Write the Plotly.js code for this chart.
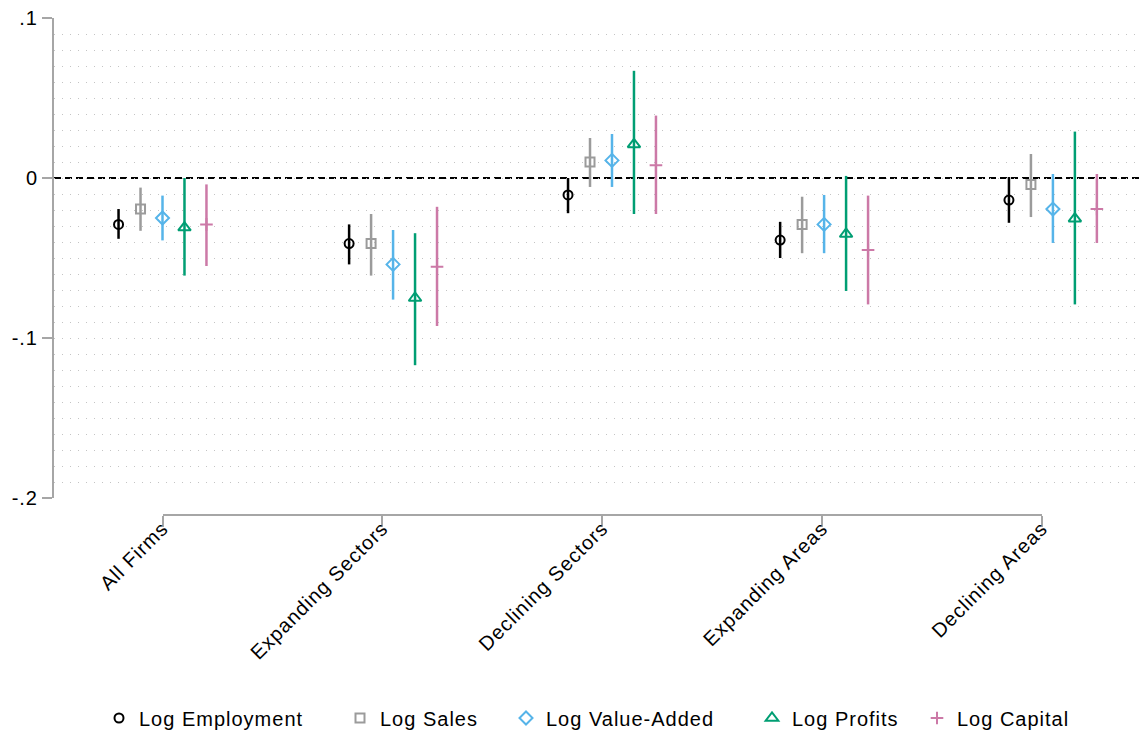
<!DOCTYPE html>
<html>
<head>
<meta charset="utf-8">
<script src="https://cdn.plot.ly/plotly-3.0.1.min.js"></script>
<style>
html,body{margin:0;padding:0;background:#fff;}
svg text{letter-spacing:1px;}
</style>
</head>
<body>
<div id="chart" style="width:1139px;height:733px;"></div>
<script>
// ---- data ----
const categories = ['All Firms', 'Expanding Sectors', 'Declining Sectors', 'Expanding Areas', 'Declining Areas'];
const groupCenters = [0, 1.049, 2.045, 3.01, 4.051];   // where each group of estimates sits on the category axis
const seriesNames = ['Log Employment', 'Log Sales', 'Log Value-Added', 'Log Profits', 'Log Capital'];

const empEst = [-0.029, -0.041, -0.0106, -0.0388, -0.0138];
const empLo  = [-0.038, -0.054, -0.022, -0.050, -0.028];
const empHi  = [-0.0194, -0.029, 0.000, -0.0274, 0.0006];

const salesEst = [-0.0194, -0.041, 0.010, -0.029, -0.004];
const salesLo  = [-0.033, -0.061, -0.0056, -0.047, -0.0244];
const salesHi  = [-0.006, -0.0225, 0.025, -0.0117, 0.015];

const vaEst = [-0.025, -0.054, 0.011, -0.029, -0.0194];
const vaLo  = [-0.039, -0.076, -0.0056, -0.047, -0.0406];
const vaHi  = [-0.011, -0.0325, 0.0275, -0.0106, 0.0025];

const profitsEst = [-0.031, -0.075, 0.021, -0.035, -0.0254];
const profitsLo  = [-0.061, -0.117, -0.0225, -0.0706, -0.079];
const profitsHi  = [0.0, -0.0345, 0.067, 0.0013, 0.029];

const capitalEst = [-0.029, -0.0554, 0.008, -0.045, -0.0194];
const capitalLo  = [-0.055, -0.0925, -0.0225, -0.079, -0.0406];
const capitalHi  = [-0.004, -0.018, 0.039, -0.011, 0.0025];

const yTickVals = [-0.2, -0.1, 0, 0.1];
const yTickText = ['-.2', '-.1', '0', '.1'];

// ---- styling ----
const FONT = 'Liberation Sans, Arial, Helvetica, sans-serif';
const AXIS_GRAY = '#a6a6a6';
const groupOffsets = [-0.2, -0.1, 0, 0.1, 0.2];
const legendLeft = [99, 340, 506, 752, 917];   // pixel left edge of each legend entry
const styles = [
  {color: '#000000', symbol: 'circle-open', size: 9},
  {color: '#9b9b9b', symbol: 'square-open', size: 9},
  {color: '#56B4E9', symbol: 'diamond-open', size: 10},
  {color: '#009E73', symbol: 'triangle-up-open', size: 11},
  {color: '#CC79A7', symbol: 'cross-thin-open', size: 9}
];
const seriesData = [
  [empEst, empLo, empHi],
  [salesEst, salesLo, salesHi],
  [vaEst, vaLo, vaHi],
  [profitsEst, profitsLo, profitsHi],
  [capitalEst, capitalLo, capitalHi]
];
const legendIds = ['legend', 'legend2', 'legend3', 'legend4', 'legend5'];

const traces = seriesData.map(([est, lo, hi], s) => ({
  type: 'scatter',
  mode: 'markers',
  name: seriesNames[s],
  legend: legendIds[s],
  x: groupCenters.map(c => c + groupOffsets[s]),
  y: est,
  marker: {color: styles[s].color, symbol: styles[s].symbol, size: styles[s].size,
           line: {color: styles[s].color, width: 2}},
  error_y: {
    type: 'data', symmetric: false,
    array: hi.map((h, i) => h - est[i]),
    arrayminus: lo.map((l, i) => est[i] - l),
    color: styles[s].color, thickness: 2.5, width: 0
  },
  hoverinfo: 'y'
}));

// helper trace that carries the category axis (no visible marks)
traces.push({
  type: 'scatter', mode: 'markers', x: [0], y: [null],
  xaxis: 'x2', yaxis: 'y2', showlegend: false, hoverinfo: 'skip'
});

const gridStyle = {color: '#c4c4c4', dash: '1px,7px'};
const tickPx0 = 162.5, tickStep = 219.8, plotLeft = 54, plotW = 1085;

const layout = {
  width: 1139, height: 733,
  margin: {l: plotLeft, r: 0, t: 18, b: 218},
  paper_bgcolor: '#ffffff', plot_bgcolor: 'rgba(0,0,0,0)',
  font: {family: FONT, size: 20, color: '#000'},
  showlegend: true,
  xaxis: {
    range: [(plotLeft - tickPx0) / tickStep, (plotLeft + plotW - tickPx0) / tickStep],
    showticklabels: false, showgrid: false,
    zeroline: false, showline: false, ticks: '', fixedrange: true
  },
  yaxis: {
    domain: [0.0342, 1], range: [-0.2, 0.1], anchor: 'x',
    tickvals: yTickVals, ticktext: yTickText,
    ticks: 'outside', ticklen: 10, tickwidth: 2, tickcolor: AXIS_GRAY,
    showline: true, linecolor: AXIS_GRAY, linewidth: 2,
    showgrid: true, gridcolor: gridStyle.color, griddash: gridStyle.dash, gridwidth: 1,
    minor: {dtick: 0.01, tick0: 0, showgrid: true, gridcolor: gridStyle.color, griddash: gridStyle.dash, gridwidth: 1, ticks: ''},
    zeroline: false, tickfont: {family: FONT, size: 20, color: '#000'}, fixedrange: true
  },
  xaxis2: {
    domain: [(tickPx0 - plotLeft) / plotW, (tickPx0 + 4 * tickStep - plotLeft) / plotW], range: [0, 4],
    anchor: 'free', position: 0, side: 'bottom',
    tickvals: categories.map((_, i) => i), ticktext: categories, tickangle: -45,
    ticks: 'outside', ticklen: 11, tickwidth: 2, tickcolor: AXIS_GRAY,
    showline: true, linecolor: AXIS_GRAY, linewidth: 2,
    showgrid: false, zeroline: false, ticklabelstandoff: -18,
    tickfont: {family: FONT, size: 20, color: '#000'}, fixedrange: true
  },
  yaxis2: {
    domain: [0.0342, 1], range: [-0.2, 0.1], anchor: 'x2', visible: false,
    showgrid: false, zeroline: false, fixedrange: true
  },
  shapes: [{
    type: 'line', xref: 'paper', yref: 'y', x0: 0, x1: 1, y0: 0, y1: 0,
    line: {color: '#000', width: 2, dash: '7px,4px'}, layer: 'below'
  }]
};

legendIds.forEach((id, s) => {
  layout[id] = {
    orientation: 'h', xref: 'container', yref: 'container',
    x: legendLeft[s] / 1139, xanchor: 'left', y: (733 - 718) / 733, yanchor: 'middle',
    font: {family: FONT, size: 20, color: '#000'}, bgcolor: 'rgba(0,0,0,0)',
    itemclick: false, borderwidth: 0
  };
});

Plotly.newPlot('chart', traces, layout, {displayModeBar: false});
</script>
</body>
</html>
